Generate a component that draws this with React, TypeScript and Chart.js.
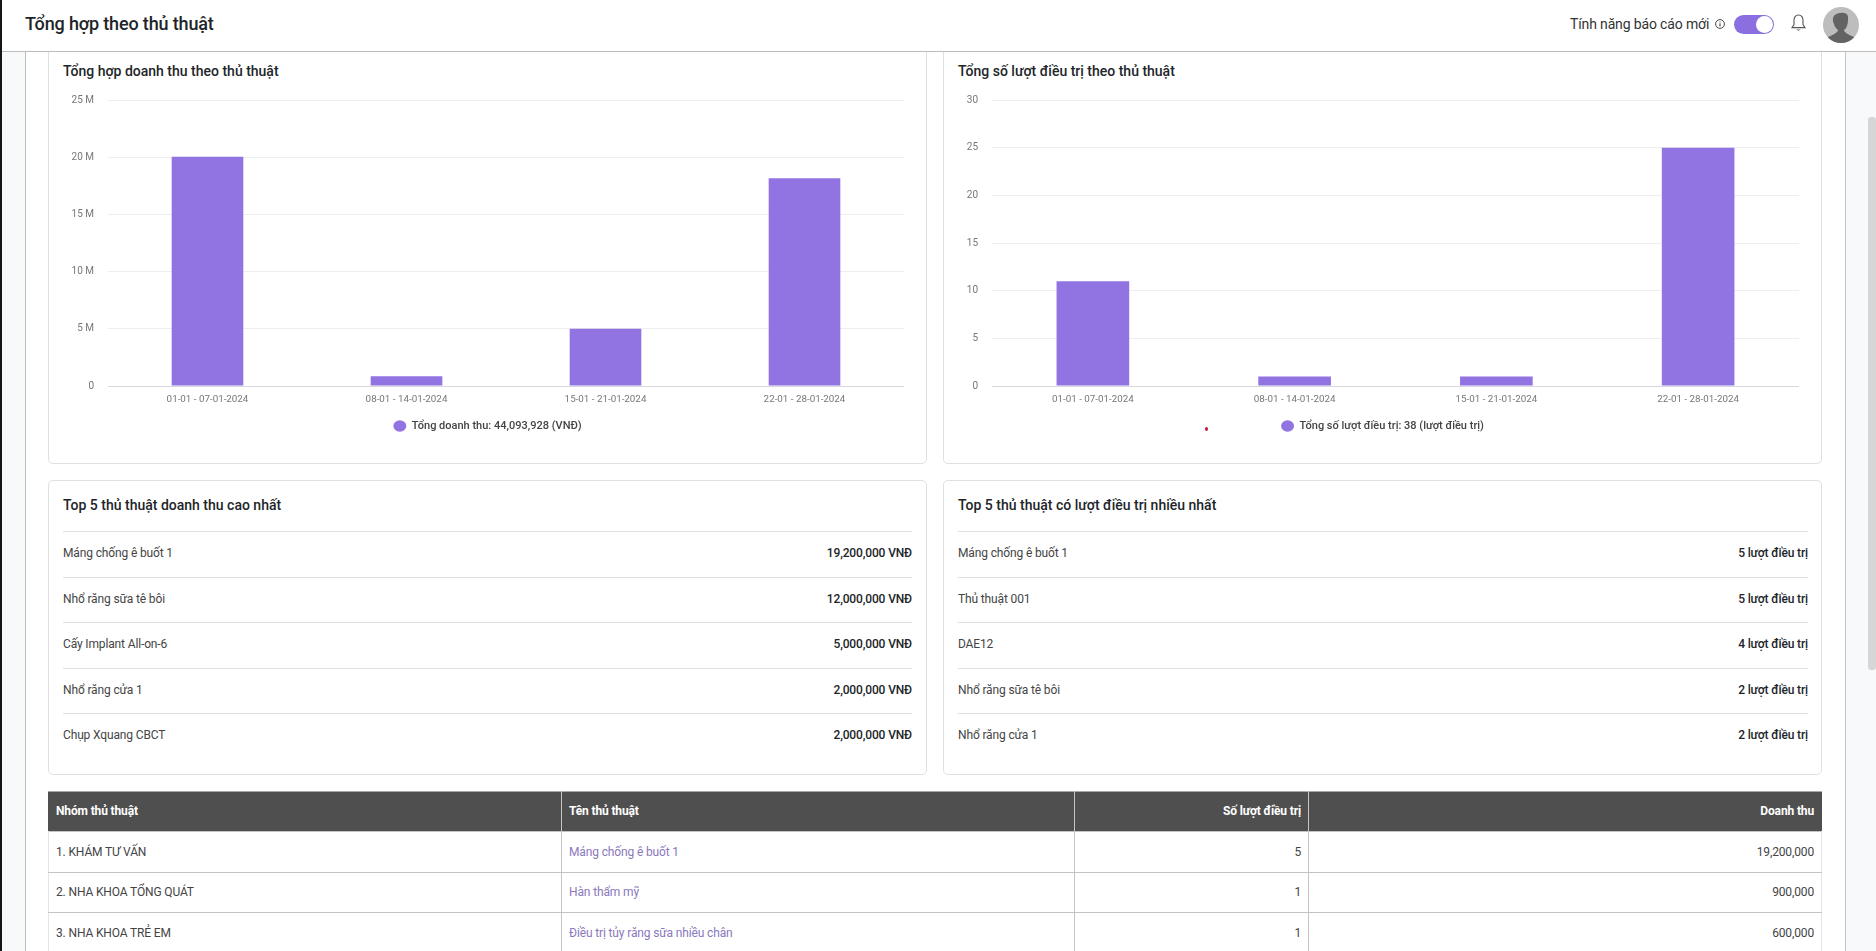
import { useEffect, useRef } from 'react';
import type { CSSProperties } from 'react';
import { Chart, registerables } from 'chart.js';

Chart.register(...registerables);

const weeks = ['01-01 - 07-01-2024', '08-01 - 14-01-2024', '15-01 - 21-01-2024', '22-01 - 28-01-2024'];
const revenueValues = [20050000, 850000, 5000000, 18150000];
const treatmentValues = [11, 1, 1, 25];
const revenueLegend = 'Tổng doanh thu: 44,093,928 (VNĐ)';
const treatmentLegend = 'Tổng số lượt điều trị: 38 (lượt điều trị)';

const topRevenueNames = ['Máng chống ê buốt 1', 'Nhổ răng sữa tê bôi', 'Cấy Implant All-on-6', 'Nhổ răng cửa 1', 'Chụp Xquang CBCT'];
const topRevenueValues = ['19,200,000 VNĐ', '12,000,000 VNĐ', '5,000,000 VNĐ', '2,000,000 VNĐ', '2,000,000 VNĐ'];
const topCountNames = ['Máng chống ê buốt 1', 'Thủ thuật 001', 'DAE12', 'Nhổ răng sữa tê bôi', 'Nhổ răng cửa 1'];
const topCountValues = ['5 lượt điều trị', '5 lượt điều trị', '4 lượt điều trị', '2 lượt điều trị', '2 lượt điều trị'];

const tableGroups = ['1. KHÁM TƯ VẤN', '2. NHA KHOA TỔNG QUÁT', '3. NHA KHOA TRẺ EM'];
const tableNames = ['Máng chống ê buốt 1', 'Hàn thẩm mỹ', 'Điều trị tủy răng sữa nhiều chân'];
const tableCounts = ['5', '1', '1'];
const tableRevenue = ['19,200,000', '900,000', '600,000'];

const PURPLE = '#9173e2';
const FONT = 'Roboto, sans-serif';
const rowTops = [531, 577, 622, 668, 713];
const tableRowTops = [831, 872, 912];
const tableTextTops = [842, 882, 923];

function BarChart({ values, legend, max, step, unit, left, width, axisWidth }: {
  values: number[]; legend: string; max: number; step: number; unit: boolean; left: number; width: number; axisWidth: number;
}) {
  const ref = useRef<HTMLCanvasElement>(null);

  useEffect(() => {
    if (!ref.current) return;
    const chart = new Chart(ref.current, {
      type: 'bar',
      data: {
        labels: weeks,
        datasets: [{
          label: legend,
          data: values,
          backgroundColor: PURPLE,
          borderWidth: 0,
          barPercentage: 0.36,
          categoryPercentage: 1,
        }],
      },
      options: {
        animation: false,
        responsive: true,
        maintainAspectRatio: false,
        layout: { padding: { bottom: 18.5 } },
        plugins: {
          tooltip: { enabled: false },
          legend: {
            position: 'bottom',
            labels: {
              usePointStyle: true,
              pointStyle: 'circle',
              pointStyleWidth: 13,
              boxHeight: 8,
              padding: 10,
              color: '#444',
              font: { family: FONT, size: 11, weight: 500 },
            },
          },
        },
        scales: {
          x: {
            afterFit: (s) => { s.height = 24.5; },
            grid: { display: false },
            border: { color: '#d8d8e0' },
            ticks: { color: '#777', padding: 0, font: { family: FONT, size: 9.8 }, maxRotation: 0 },
          },
          y: {
            min: 0,
            max,
            afterFit: (s) => { s.width = axisWidth; },
            border: { display: false },
            grid: {
              drawTicks: false,
              color: (c) => (c.tick.value === 0 ? '#d8d8e0' : '#eeeeee'),
            },
            ticks: {
              stepSize: step,
              padding: 14,
              color: '#777',
              font: { family: FONT, size: 10 },
              callback: (v) => (unit && Number(v) > 0 ? `${Number(v) / 1000000} M` : `${v}`),
            },
          },
        },
      },
    });
    return () => chart.destroy();
  }, [values, legend, max, step, unit, axisWidth]);

  return (
    <div style={{ position: 'absolute', left, top: 80, width, height: 380 }}>
      <canvas ref={ref}></canvas>
    </div>
  );
}

const box = (left: number, top: number, width: number, height: number): CSSProperties => ({
  position: 'absolute', left, top, width, height, boxSizing: 'border-box',
});

const line = (left: number, top: number, width: number, height: number, background: string): CSSProperties => ({
  ...box(left, top, width, height), background,
});

const textAt = (top: number, size: number, weight: number, color: string): CSSProperties => ({
  position: 'absolute', top, height: 20, lineHeight: '20px', fontSize: size, fontWeight: weight, color,
  whiteSpace: 'nowrap', letterSpacing: size === 14 ? '0' : '-0.14px',
});

function Card({ left, top, width, height }: { left: number; top: number; width: number; height: number }) {
  return <div style={{ ...box(left, top, width, height), border: '1px solid #e0e0e0', borderRadius: 5, background: '#fff' }} />;
}

function TopList({ left, width, title, names, vals }: { left: number; width: number; title: string; names: string[]; vals: string[] }) {
  return (
    <>
      <div style={{ ...textAt(495, 14, 500, '#212529'), left }}>{title}</div>
      {names.map((n, i) => (
        <div key={n}>
          <div style={line(left, rowTops[i], width, 1, '#dfe0e3')} />
          <div style={{ ...textAt(rowTops[i] + 12, 12, 400, '#444'), left }}>{n}</div>
          <div style={{ ...textAt(rowTops[i] + 12, 12, 500, '#212529'), left: left + width - 200, width: 200, textAlign: 'right' }}>{vals[i]}</div>
        </div>
      ))}
    </>
  );
}

export default function App() {
  return (
    <div style={{ position: 'fixed', inset: 0, width: 1876, height: 951, overflow: 'hidden', background: '#fff', fontFamily: FONT }}>
      {/* page chrome */}
      <div style={line(0, 0, 2, 951, '#15151c')} />
      <div style={line(2, 51, 23, 900, '#f8f9fb')} />
      <div style={line(25, 51, 1, 900, '#bdbdbd')} />
      <div style={line(1846, 51, 30, 900, '#f8f9fb')} />
      <div style={line(1845, 51, 1, 900, '#c4c4c4')} />
      <div style={{ ...line(1868, 117, 8, 553, '#d6d6d6'), borderRadius: 3 }} />

      <Card left={48} top={40} width={879} height={424} />
      <Card left={943} top={40} width={879} height={424} />
      <Card left={48} top={480} width={879} height={295} />
      <Card left={943} top={480} width={879} height={295} />

      {/* header */}
      <div style={line(2, 0, 1874, 51, '#fff')} />
      <div style={line(2, 51, 1874, 1, '#bcbcbc')} />
      <div style={{ ...textAt(14, 18, 500, '#212529'), left: 25, letterSpacing: '-0.15px' }}>Tổng hợp theo thủ thuật</div>
      <div style={{ ...textAt(14, 14, 400, '#333'), left: 1570, letterSpacing: '-0.14px' }}>Tính năng báo cáo mới</div>
      <svg style={box(1715, 19, 10, 10)} viewBox="0 0 10 10">
        <circle cx="5" cy="5" r="4.4" fill="none" stroke="#333" strokeWidth="0.9" />
        <path d="M5 4.3V7.4M5 2.6V3.4" stroke="#333" strokeWidth="1" />
      </svg>
      <div style={{ ...box(1734, 15, 40, 19), background: '#8b6fe0', borderRadius: 10 }} />
      <div style={{ ...box(1756, 16, 17, 17), background: '#fff', borderRadius: '50%' }} />
      <svg style={box(1790, 13, 17, 20)} viewBox="0 0 17 20">
        <path d="M8.5 2C5.4 2 4 4.4 4 7.2V11.5L2 14.6H15L13 11.5V7.2C13 4.4 11.6 2 8.5 2Z" fill="none" stroke="#555" strokeWidth="1.1" />
        <path d="M7 16.4C7.4 17.6 9.6 17.6 10 16.4" fill="#888" stroke="#888" />
      </svg>
      <svg style={box(1823, 7, 36, 36)} viewBox="0 0 36 36">
        <clipPath id="avatar"><circle cx="18" cy="18" r="18" /></clipPath>
        <g clipPath="url(#avatar)">
          <rect width="36" height="36" fill="#bdbdbd" />
          <path d="M10 14C9 8 14 6 18 6C23 5 26 8 25 13C25 18 23 22 21 23C21 25 24 27 31 30V36H5V30C12 27 15 25 15 23C12 21 11 18 10 14Z" fill="#636363" />
        </g>
      </svg>

      {/* chart cards */}
      <div style={{ ...textAt(61, 14, 500, '#212529'), left: 63 }}>Tổng hợp doanh thu theo thủ thuật</div>
      <div style={{ ...textAt(61, 14, 500, '#212529'), left: 958 }}>Tổng số lượt điều trị theo thủ thuật</div>
      <BarChart values={revenueValues} legend={revenueLegend} max={25000000} step={5000000} unit left={71} width={833} axisWidth={37} />
      <BarChart values={treatmentValues} legend={treatmentLegend} max={30} step={5} unit={false} left={966} width={833} axisWidth={26} />
      <div style={{ ...box(1205, 427, 3, 4), background: '#c2183a', borderRadius: '50%' }} />

      <TopList left={63} width={849} title="Top 5 thủ thuật doanh thu cao nhất" names={topRevenueNames} vals={topRevenueValues} />
      <TopList left={958} width={850} title="Top 5 thủ thuật có lượt điều trị nhiều nhất" names={topCountNames} vals={topCountValues} />

      {/* table */}
      <div style={line(48, 791, 1774, 40, '#4f4f4f')} />
      <div style={line(48, 791, 1774, 1, '#a8a8a8')} />
      <div style={line(48, 831, 1774, 1, '#c4c4c4')} />
      <div style={line(561, 791, 1, 160, '#c4c4c4')} />
      <div style={line(1074, 791, 1, 160, '#c4c4c4')} />
      <div style={line(1308, 791, 1, 160, '#c4c4c4')} />
      <div style={line(48, 831, 1, 120, '#e4e4e4')} />
      <div style={line(1821, 831, 1, 120, '#e4e4e4')} />
      <div style={{ ...textAt(801, 12, 700, '#fff'), left: 56 }}>Nhóm thủ thuật</div>
      <div style={{ ...textAt(801, 12, 700, '#fff'), left: 569 }}>Tên thủ thuật</div>
      <div style={{ ...textAt(801, 12, 700, '#fff'), left: 1100, width: 201, textAlign: 'right' }}>Số lượt điều trị</div>
      <div style={{ ...textAt(801, 12, 700, '#fff'), left: 1614, width: 200, textAlign: 'right' }}>Doanh thu</div>
      {tableGroups.map((g, i) => (
        <div key={g}>
          {i > 0 && <div style={line(48, tableRowTops[i], 1774, 1, '#c4c4c4')} />}
          <div style={{ ...textAt(tableTextTops[i], 12, 400, '#444'), left: 56 }}>{g}</div>
          <div style={{ ...textAt(tableTextTops[i], 12, 400, '#8a78bd'), left: 569 }}>{tableNames[i]}</div>
          <div style={{ ...textAt(tableTextTops[i], 12, 400, '#444'), left: 1100, width: 201, textAlign: 'right' }}>{tableCounts[i]}</div>
          <div style={{ ...textAt(tableTextTops[i], 12, 400, '#444'), left: 1614, width: 200, textAlign: 'right' }}>{tableRevenue[i]}</div>
        </div>
      ))}
    </div>
  );
}
